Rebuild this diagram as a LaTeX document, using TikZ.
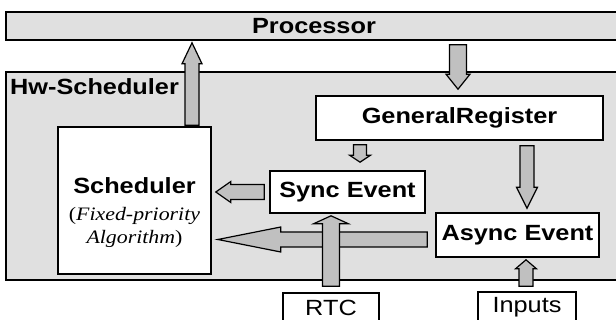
\documentclass[tikz,border=0pt]{standalone}
\usepackage{fontspec}
\setsansfont{Liberation Sans}[FakeStretch=1.15]
\newfontfamily\algfont{Liberation Serif}[FakeStretch=1.15]
\usetikzlibrary{calc}

\definecolor{panelgray}{HTML}{E0E0E0}
\definecolor{arrowgray}{HTML}{C0C0C0}

\tikzset{
  unit/.style={draw, line width=1.6pt, fill=white, inner sep=0pt,
    font=\sffamily\bfseries\fontsize{22}{26}\selectfont},
  panel/.style={unit, fill=panelgray},
  port/.style={unit, font=\sffamily\fontsize{22}{26}\selectfont},
  fatarrow/.style={draw, line width=1.2pt, fill=arrowgray, line join=miter},
}

% block arrow: from, to, shaft half width, head half width, head length
\newcommand{\blockarrow}[5]{%
  \path (#1) coordinate (ba-s) (#2) coordinate (ba-t);
  \path ($(ba-t)!#5!(ba-s)$) coordinate (ba-h);
  \draw[fatarrow] ($(ba-s)!#3!90:(ba-t)$) -- ($(ba-h)!#3!90:(ba-t)$)
    -- ($(ba-h)!#4!90:(ba-t)$) -- (ba-t) -- ($(ba-h)!#4!-90:(ba-t)$)
    -- ($(ba-h)!#3!-90:(ba-t)$) -- ($(ba-s)!#3!-90:(ba-t)$) -- cycle;
}

\begin{document}
\begin{tikzpicture}[x=1pt, y=-1pt]

  \clip (0,0) rectangle (616,320);

  % --- Processor and Hw-Scheduler panels ---
  \node[panel, minimum width=616pt, minimum height=208pt] (hwsched) at (314,176) {};
  \node[anchor=base west, inner sep=0pt,
    font=\sffamily\bfseries\fontsize{22}{26}\selectfont] (hwlabel) at (10,95) {Hw-Scheduler};
  \node[panel, minimum width=616pt, minimum height=28pt] (proc) at (314,26) {Processor};

  % --- Units inside the scheduler ---
  \node[unit, minimum width=287pt, minimum height=44pt] (gr) at (459.5,118) {GeneralRegister};
  \node[unit, minimum width=153pt, minimum height=147pt] (sched) at (134.5,200.5) {};
  \node[align=center, inner sep=0pt, font=\algfont\fontsize{19}{23}\selectfont]
    (schedtext) at ([yshift=-12pt]sched.center)
    {{\sffamily\bfseries\fontsize{22}{26}\selectfont Scheduler}\\[4pt]
     (\textit{Fixed-priority}\\ \textit{Algorithm})};
  \node[unit, minimum width=155pt, minimum height=42pt] (sync) at (347.5,192) {Sync Event};
  \node[unit, minimum width=163pt, minimum height=44pt] (async) at (517.5,235) {Async Event};

  % --- External inputs ---
  \node[port, minimum width=96pt, minimum height=30pt] (rtc) at (331,308) {RTC};
  \node[port, minimum width=98pt, minimum height=31pt] (inputs) at (527,307.5) {Inputs};

  % --- Block arrows ---
  \blockarrow{[xshift=57.5pt,yshift=1pt]sched.north}{[xshift=-122pt,yshift=-2pt]proc.south}{7pt}{10pt}{21pt}
  \blockarrow{[xshift=144pt,yshift=-4pt]proc.south}{[xshift=-1.5pt,yshift=6pt]gr.north}{8.5pt}{12pt}{15pt}
  \blockarrow{[xshift=-99.5pt,yshift=-4pt]gr.south}{[xshift=12.5pt,yshift=8pt]sync.north}{6.5pt}{10.5pt}{7pt}
  \blockarrow{[xshift=67.5pt,yshift=-5pt]gr.south}{[xshift=9.5pt,yshift=4pt]async.north}{7pt}{10.5pt}{21pt}
  \blockarrow{[xshift=-5pt]sync.west}{[xshift=4pt,yshift=8.5pt]sched.east}{7.5pt}{10.5pt}{15pt}
  \blockarrow{[xshift=-8pt,yshift=-4.5pt]async.west}{[xshift=6pt,yshift=-39pt]sched.east}{7.5pt}{12.5pt}{63pt}
  \blockarrow{[yshift=6pt]rtc.north}{[xshift=-16.5pt,yshift=-2pt]sync.south}{8.5pt}{17.5pt}{8pt}
  \blockarrow{[xshift=-1pt,yshift=5pt]inputs.north}{[xshift=8.5pt,yshift=-2pt]async.south}{7pt}{10.5pt}{9pt}

\end{tikzpicture}
\end{document}
